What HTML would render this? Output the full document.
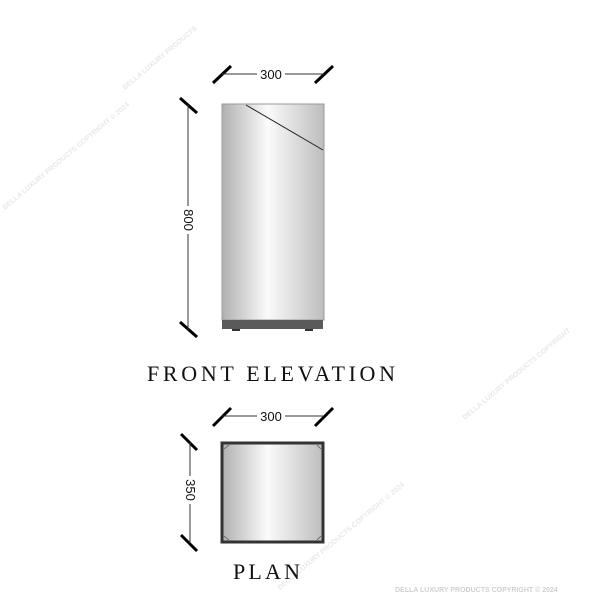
<!DOCTYPE html>
<html><head><style>
body{margin:0;background:#fff;}
svg{display:block}
</style></head><body>
<svg width="600" height="600" viewBox="0 0 600 600" xmlns="http://www.w3.org/2000/svg">
<defs>
<linearGradient id="g" x1="0" x2="1" y1="0" y2="0">
<stop offset="0" stop-color="#b0b0b0"/><stop offset="0.45" stop-color="#fbfbfb"/><stop offset="1" stop-color="#bdbdbd"/>
</linearGradient>
</defs>
<g fill="#e8e8e8" font-family="Liberation Sans, sans-serif" font-size="7" font-weight="bold">
<text transform="translate(125,90) rotate(-40)">DELLA LUXURY PRODUCTS</text>
<text transform="translate(5,210) rotate(-40)">DELLA LUXURY PRODUCTS COPYRIGHT © 2024</text>
<text transform="translate(465,420) rotate(-40)">DELLA LUXURY PRODUCTS COPYRIGHT</text>
<text transform="translate(280,590) rotate(-40)">DELLA LUXURY PRODUCTS COPYRIGHT © 2024</text>
<text x="395" y="592" fill="#d0d0d0">DELLA LUXURY PRODUCTS COPYRIGHT © 2024</text>
</g>
<rect x="222" y="104" width="102" height="216" fill="url(#g)" stroke="#999" stroke-width="1"/>
<line x1="246" y1="105" x2="323" y2="150" stroke="#222" stroke-width="1"/>
<rect x="222" y="320" width="101" height="9" fill="#5a5a5a"/>
<rect x="232" y="329" width="8" height="2" fill="#333"/>
<rect x="305" y="329" width="8" height="2" fill="#333"/>
<g stroke="#000" stroke-width="3">
<line x1="213" y1="83" x2="231" y2="66"/><line x1="315" y1="83" x2="333" y2="66"/>
<line x1="180" y1="98" x2="197" y2="113"/><line x1="180" y1="322" x2="197" y2="337"/>
<line x1="213" y1="426" x2="231" y2="408"/><line x1="315" y1="426" x2="333" y2="408"/>
<line x1="181" y1="434" x2="197" y2="450"/><line x1="181" y1="535" x2="197" y2="551"/>
</g>
<g stroke="#333" stroke-width="1">
<line x1="222" y1="74" x2="257" y2="74"/><line x1="285" y1="74" x2="324" y2="74"/>
<line x1="188" y1="105" x2="188" y2="206"/><line x1="188" y1="234" x2="188" y2="330"/>
<line x1="222" y1="416" x2="257" y2="416"/><line x1="285" y1="416" x2="324" y2="416"/>
<line x1="190" y1="442" x2="190" y2="476"/><line x1="190" y1="504" x2="190" y2="543"/>
</g>
<g font-family="Liberation Sans, sans-serif" font-size="13" fill="#111" text-anchor="middle">
<text x="271" y="79">300</text>
<text x="271" y="421">300</text>
<text transform="translate(184,220) rotate(90)">800</text>
<text transform="translate(186,490) rotate(90)">350</text>
</g>
<rect x="222" y="443" width="101" height="99" fill="url(#g)" stroke="#333" stroke-width="3"/>
<g stroke="#555" stroke-width="0.8" fill="none">
<path d="M224 449 L229 445 M317 445 L321 449 M224 536 L229 540 M317 540 L321 536"/>
</g>
<g font-family="Liberation Serif, serif" font-size="22" fill="#111">
<text x="147" y="381" textLength="248" lengthAdjust="spacing">FRONT ELEVATION</text>
<text x="233" y="579" textLength="67" lengthAdjust="spacing">PLAN</text>
</g>
</svg>
</body></html>
